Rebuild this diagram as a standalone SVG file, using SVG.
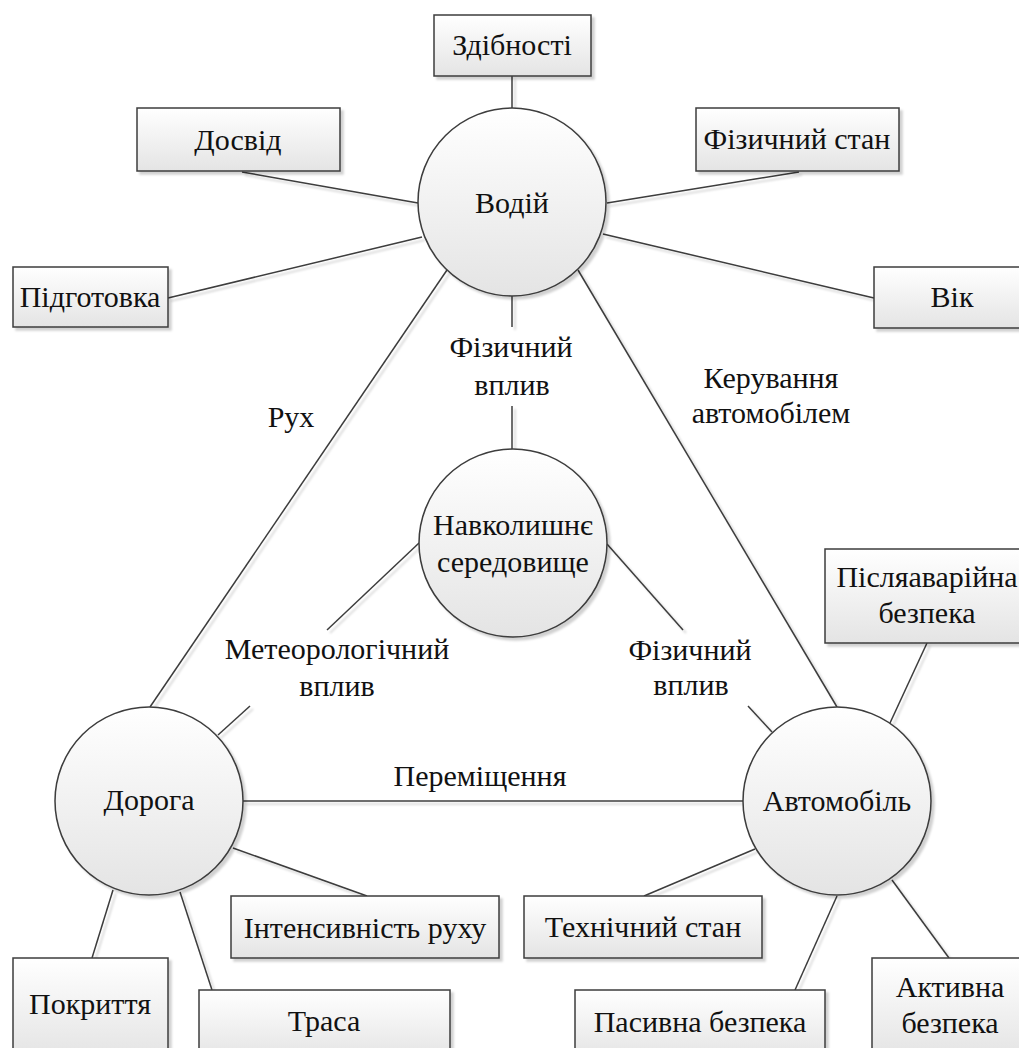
<svg xmlns="http://www.w3.org/2000/svg" width="1019" height="1048" viewBox="0 0 1019 1048">
<defs>
<linearGradient id="g" x1="0" y1="0" x2="0" y2="1">
<stop offset="0" stop-color="#ffffff"/>
<stop offset="1" stop-color="#e4e4e4"/>
</linearGradient>
<filter id="sh" x="-10%" y="-10%" width="130%" height="130%">
<feDropShadow dx="3" dy="3" stdDeviation="1.2" flood-color="#000" flood-opacity="0.18"/>
</filter>
</defs>
<style>
.n{fill:url(#g);stroke:#3c3c3c;stroke-width:1.5;filter:url(#sh)}
.c line{stroke:#3c3c3c;stroke-width:1.5}
</style>
<rect width="1019" height="1048" fill="#fff"/>
<g class="c" id="connectors" filter="url(#sh)">
<line x1="512" y1="76" x2="512" y2="108"/>
<line x1="242" y1="172" x2="418" y2="203"/>
<line x1="168" y1="298" x2="422" y2="237"/>
<line x1="607" y1="203" x2="799" y2="172"/>
<line x1="603" y1="234" x2="874" y2="298"/>
<line x1="447" y1="270" x2="150" y2="707"/>
<line x1="578" y1="270" x2="837" y2="707"/>
<line x1="512" y1="296" x2="512" y2="327"/>
<line x1="512" y1="406" x2="512" y2="449"/>
<line x1="419" y1="543" x2="327" y2="630"/>
<line x1="250" y1="706" x2="218" y2="735"/>
<line x1="607" y1="544" x2="683" y2="630"/>
<line x1="748" y1="706" x2="772" y2="732"/>
<line x1="243" y1="801" x2="743" y2="801"/>
<line x1="233" y1="848" x2="367" y2="896"/>
<line x1="113" y1="890" x2="92" y2="958"/>
<line x1="180" y1="892" x2="212" y2="990"/>
<line x1="927" y1="643" x2="890" y2="723"/>
<line x1="755" y1="849" x2="644" y2="896"/>
<line x1="837" y1="896" x2="795" y2="990"/>
<line x1="892" y1="880" x2="949" y2="958"/>
</g>
<g font-family="Liberation Serif, Tinos, Times New Roman, DejaVu Serif, Noto Serif, serif" font-size="30" fill="#111" text-anchor="middle">
<g id="labels">
<text x="511" y="357">Фізичний</text>
<text x="512" y="395">вплив</text>
<text x="291" y="427">Рух</text>
<text x="771" y="388">Керування</text>
<text x="771" y="423">автомобілем</text>
<text x="337" y="659">Метеорологічний</text>
<text x="337" y="696">вплив</text>
<text x="690" y="660">Фізичний</text>
<text x="691" y="695">вплив</text>
<text x="480" y="786">Переміщення</text>
</g>
<g id="vodii"><circle class="n" cx="512" cy="202" r="94"/><text x="512" y="213">Водій</text></g>
<g id="seredovyshche"><circle class="n" cx="513" cy="543" r="94"/><text x="513" y="535">Навколишнє</text><text x="513" y="572">середовище</text></g>
<g id="doroha"><circle class="n" cx="149" cy="801" r="94"/><text x="149" y="810">Дорога</text></g>
<g id="avtomobil"><circle class="n" cx="837" cy="801" r="94"/><text x="837" y="811">Автомобіль</text></g>
<g id="zdibnosti"><rect class="n" x="434" y="15" width="157" height="61"/><text x="512" y="55">Здібності</text></g>
<g id="dosvid"><rect class="n" x="137" y="108" width="203" height="63"/><text x="238" y="150">Досвід</text></g>
<g id="pidhotovka"><rect class="n" x="13" y="267" width="155" height="60"/><text x="90" y="307">Підготовка</text></g>
<g id="fizychnyi-stan"><rect class="n" x="696" y="108" width="203" height="63"/><text x="797" y="149">Фізичний стан</text></g>
<g id="vik"><rect class="n" x="874" y="267" width="156" height="61"/><text x="952" y="307">Вік</text></g>
<g id="intensyvnist"><rect class="n" x="231" y="896" width="268" height="62"/><text x="365" y="938">Інтенсивність руху</text></g>
<g id="pokryttia"><rect class="n" x="13" y="958" width="155" height="100"/><text x="90" y="1014">Покриття</text></g>
<g id="trasa"><rect class="n" x="199" y="990" width="251" height="70"/><text x="324" y="1031">Траса</text></g>
<g id="pisliaavariina"><rect class="n" x="825" y="549" width="204" height="94"/><text x="927" y="587">Післяаварійна</text><text x="927" y="623">безпека</text></g>
<g id="tekhnichnyi"><rect class="n" x="524" y="896" width="238" height="62"/><text x="643" y="937">Технічний стан</text></g>
<g id="pasyvna"><rect class="n" x="575" y="990" width="250" height="70"/><text x="700" y="1032">Пасивна безпека</text></g>
<g id="aktyvna"><rect class="n" x="872" y="958" width="156" height="100"/><text x="950" y="997">Активна</text><text x="950" y="1033">безпека</text></g>
</g>
</svg>
